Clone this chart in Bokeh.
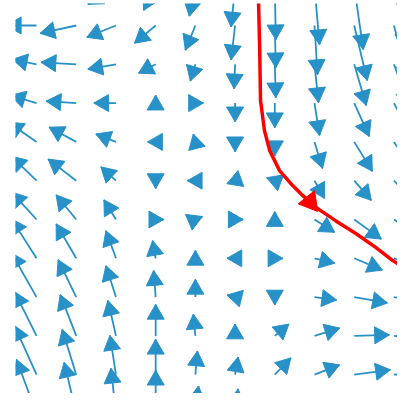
import math
from bokeh.plotting import figure
from bokeh.models import ColumnDataSource, Range1d
from bokeh.embed import file_html
from bokeh.resources import INLINE

# grid of the vector field (columns left->right, rows top->bottom)
grid_x = [0, 1, 2, 3, 4, 5, 6, 7, 8, 9]
grid_y = [11, 10, 9, 8, 7, 6, 5, 4, 3, 2, 1, 0]

# horizontal component (right +), one list per row, top -> bottom
U = [
    [-28, -33, -28, -12, -6, -4, 1, 5, 9, 12],
    [-30, -36, -29, -21, -10, -4, 1, 3, 13, 14],
    [-24, -35, -28, -17, -5, -1, 1, 4, 12, 15],
    [-26, -30, -22, 0, 8, 0, 0, 5, 15, 18],
    [-28, -27, -20, -8, -2, 0, 0, 8, 18, 20],
    [-25, -28, -15, 0, -8, -8, -8, 10, 17, 22],
    [-25, -20, -12, 8, 7, 8, 0, 20, 27, 30],
    [-25, -20, -10, -3, 0, -8, 8, 20, 28, 32],
    [-25, -18, -10, -2, 0, -8, 0, 22, 33, 36],
    [-22, -16, -8, 0, -2, 0, 14, 25, 35, 38],
    [-22, -14, -6, 0, 2, 3, 16, 25, 36, 38],
    [-20, -12, -5, 0, 3, 3, 14, 22, 30, 35],
]
# vertical component (up +), one list per row, top -> bottom
V = [
    [5, -10, -18, -24, -30, -41, -54, -59, -64, -62],
    [0, -8, -12, -18, -25, -35, -43, -50, -56, -55],
    [5, 2, -5, -9, -17, -25, -34, -39, -42, -42],
    [8, 2, 0, 8, 0, -19, -25, -33, -34, -35],
    [20, 15, 8, 0, 8, -10, -14, -27, -30, -30],
    [25, 22, 14, -8, 0, -3, 3, -18, -20, -22],
    [28, 25, 20, 0, 3, 0, 8, -13, -20, -20],
    [40, 35, 28, 18, 8, 0, 0, -5, -12, -12],
    [45, 38, 32, 27, 18, 2, -8, -3, -6, -6],
    [45, 42, 36, 32, 22, 12, 12, 8, 1, -2],
    [50, 46, 40, 36, 24, 18, 17, 10, 5, 2],
    [55, 52, 46, 44, 28, 25, 20, 18, 12, 8],
]

# red streamline
stream_x = [5.59, 5.62, 5.64, 5.74, 5.87, 6.12, 6.40, 6.70, 7.08, 7.53, 8.04, 8.54, 8.97, 9.29]
stream_y = [10.64, 9.36, 8.07, 7.29, 6.78, 6.26, 5.93, 5.62, 5.28, 4.97, 4.64, 4.28, 3.94, 3.74]

BLUE = "#2891c8"
arrow_scale = 0.0253
HEAD = 17

W, H = 397, 393
BL, BT = 15, 3
xr = Range1d(-0.53, 9.09)
yr = Range1d(0.515, 10.567)
px_x = (W - BL) / (xr.end - xr.start)
px_y = (H - BT) / (yr.end - yr.start)

x0, y0, x1, y1, hx, hy, ha = [], [], [], [], [], [], []
back = (HEAD * math.sqrt(3) / 2) * 2 / 3
for r, gy in enumerate(grid_y):
    for c, gx in enumerate(grid_x):
        ex = gx + U[r][c] * arrow_scale
        ey = gy + V[r][c] * arrow_scale
        x0.append(gx); y0.append(gy); x1.append(ex); y1.append(ey)
        ang = math.atan2(V[r][c] * arrow_scale * px_y, U[r][c] * arrow_scale * px_x)
        hx.append(ex - back * math.cos(ang) / px_x)
        hy.append(ey - back * math.sin(ang) / px_y)
        ha.append(ang - math.pi / 2)
shafts = ColumnDataSource(dict(x0=x0, y0=y0, x1=x1, y1=y1))
heads = ColumnDataSource(dict(x=hx, y=hy, a=ha))

p = figure(width=W, height=H, output_backend="svg", toolbar_location=None,
           x_range=xr, y_range=yr, x_axis_type=None, y_axis_type=None,
           min_border_left=BL, min_border_right=0, min_border_top=BT, min_border_bottom=0)
p.grid.visible = False
p.outline_line_color = None

p.segment("x0", "y0", "x1", "y1", source=shafts, line_color=BLUE, line_width=1.8)
p.scatter("x", "y", source=heads, marker="triangle", size=HEAD, angle="a",
          fill_color=BLUE, line_color=BLUE, line_width=1)

p.line(stream_x, stream_y, line_color="red", line_width=3.5)
k = len(stream_x) // 2
rx = (stream_x[k] + stream_x[k + 1]) / 2
ry = (stream_y[k] + stream_y[k + 1]) / 2
p.scatter([rx], [ry], marker="triangle", size=21, angle=math.pi / 2 + 0.15,
          fill_color="red", line_color="red")

open("out.html", "w").write(file_html(p, INLINE))
